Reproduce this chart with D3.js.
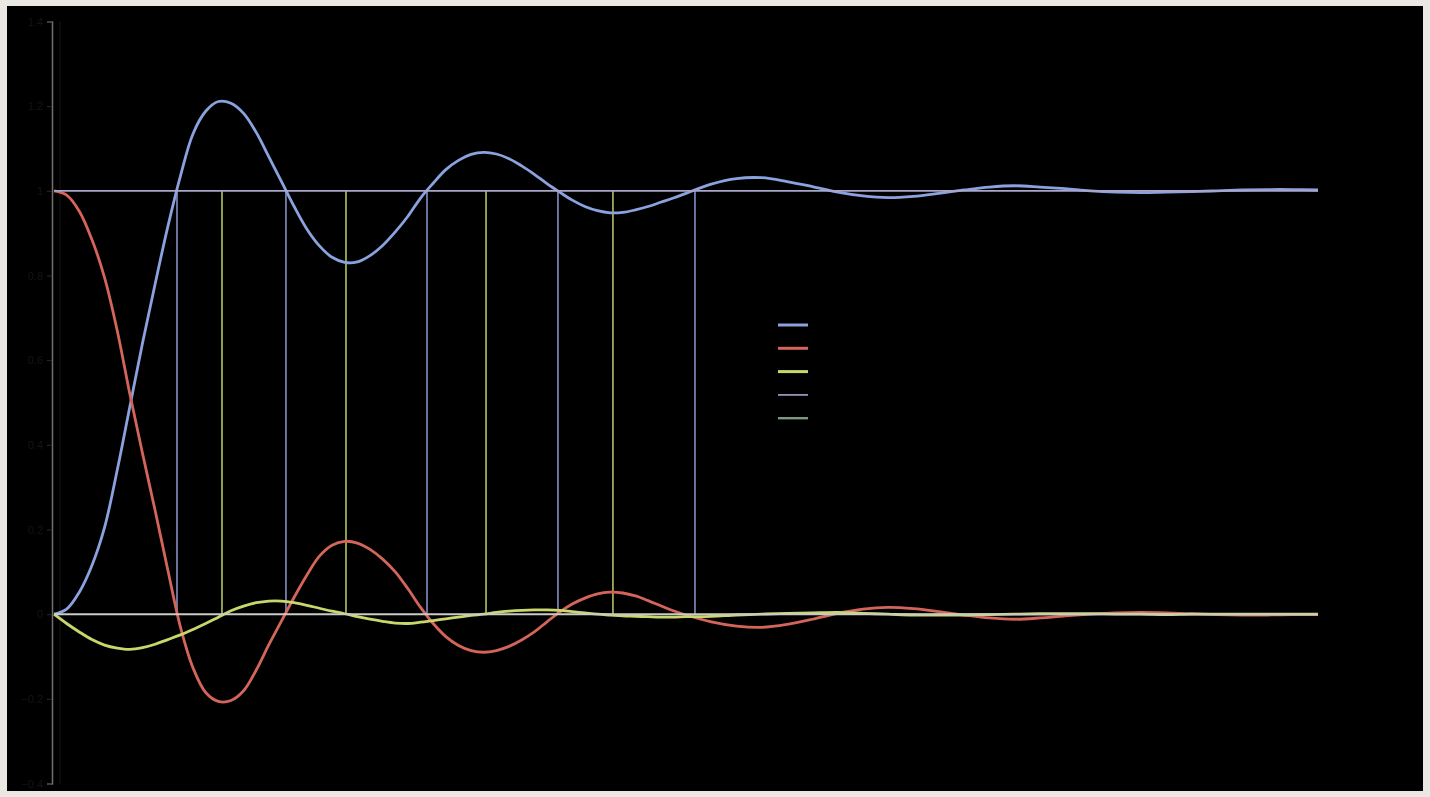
<!DOCTYPE html>
<html>
<head>
<meta charset="utf-8">
<script src="https://cdn.jsdelivr.net/npm/d3@7"></script>
<style>
  html, body { margin: 0; padding: 0; background: #ebe8e3; }
  svg { display: block; }
</style>
</head>
<body>
<div id="chart"></div>
<script>
// sample times (s)
const time = [
  0, 0.1, 0.2, 0.3, 0.4, 0.5, 0.6, 0.7, 0.8, 0.9,
  1.0, 1.1, 1.2, 1.3, 1.4, 1.5, 1.6, 1.7, 1.8, 1.9,
  2.0, 2.1, 2.2, 2.3, 2.4, 2.5, 2.6, 2.7, 2.8, 2.9,
  3.0, 3.1, 3.2, 3.3, 3.4, 3.5, 3.6, 3.7, 3.8, 3.9,
  4.0, 4.1, 4.2, 4.3, 4.4, 4.5, 4.6, 4.7, 4.8, 4.9,
  5.0, 5.2, 5.4, 5.6, 5.8, 6.0, 6.2, 6.4, 6.6, 6.8,
  7.0, 7.2, 7.4, 7.6, 7.8, 8.0, 8.2, 8.4, 8.6, 8.8,
  9.0, 9.2, 9.4, 9.6, 9.8, 10.0
];

const output = [
  0, 0.012, 0.052, 0.115, 0.205, 0.34, 0.49, 0.64, 0.78, 0.915,
  1.035, 1.135, 1.188, 1.211, 1.207, 1.183, 1.138, 1.08, 1.022, 0.963,
  0.91, 0.87, 0.843, 0.831, 0.832, 0.847, 0.871, 0.903, 0.94, 0.983,
  1.018, 1.05, 1.072, 1.086, 1.091, 1.087, 1.076, 1.059, 1.039, 1.017,
  0.997, 0.978, 0.963, 0.953, 0.948, 0.949, 0.955, 0.963, 0.973, 0.983,
  0.994, 1.016, 1.029, 1.031, 1.022, 1.01, 0.997, 0.988, 0.984, 0.987,
  0.994, 1.002, 1.009, 1.012, 1.009, 1.005, 1.0, 0.997, 0.996, 0.997,
  0.998, 1.0, 1.002, 1.003, 1.003, 1.002
];

const error = [
  1.0, 0.99, 0.952, 0.885, 0.795, 0.67, 0.52, 0.38, 0.245, 0.105,
  -0.03, -0.127, -0.185, -0.206, -0.204, -0.181, -0.132, -0.072, -0.016, 0.04,
  0.092, 0.137, 0.163, 0.172, 0.168, 0.153, 0.13, 0.1, 0.06, 0.016,
  -0.022, -0.053, -0.074, -0.086, -0.09, -0.086, -0.076, -0.061, -0.042, -0.018,
  0.005, 0.024, 0.038, 0.048, 0.052, 0.05, 0.043, 0.032, 0.02, 0.008,
  -0.002, -0.018, -0.028, -0.031, -0.024, -0.012, 0.002, 0.012, 0.016, 0.013,
  0.006, -0.002, -0.009, -0.012, -0.009, -0.004, 0.0, 0.003, 0.004, 0.003,
  0.001, -0.001, -0.002, -0.002, -0.001, -0.001
];

const errorRate = [
  0, -0.022, -0.042, -0.06, -0.073, -0.08, -0.083, -0.079, -0.071, -0.06,
  -0.049, -0.036, -0.022, -0.007, 0.008, 0.019, 0.027, 0.031, 0.031, 0.027,
  0.021, 0.014, 0.007, 0.001, -0.006, -0.012, -0.017, -0.021, -0.022, -0.019,
  -0.015, -0.011, -0.007, -0.003, 0.0, 0.004, 0.007, 0.009, 0.01, 0.01,
  0.009, 0.006, 0.003, 0.0, -0.002, -0.004, -0.005, -0.006, -0.007, -0.007,
  -0.006, -0.005, -0.002, 0.0, 0.002, 0.003, 0.004, 0.002, 0.0, -0.002,
  -0.002, -0.002, -0.001, 0.0, 0.001, 0.001, 0.001, 0.0, 0.0, -0.001,
  0, 0, 0, 0, 0, 0
];

// times where output crosses the setpoint, and where it peaks
const crossTimes = [0.973, 1.835, 2.951, 3.987, 5.071];
const peakTimes = [1.329, 2.310, 3.418, 4.422];

const levelValues = [1, 0];
const yTicks = [-0.4, -0.2, 0, 0.2, 0.4, 0.6, 0.8, 1, 1.2, 1.4];
const seriesNames = ['Output', 'Error', 'Error rate', 'Setpoint', 'Zero'];

const W = 1430, H = 797;
const colors = {
  output: '#8aa2de',
  error: '#d4655a',
  rate: '#c9d66c',
  setpoint: '#aaa6cc',
  zero: '#c8ccc6',
  crossV: '#8590c6',
  peakV: '#b3c266'
};

const svg = d3.select('#chart').append('svg')
  .attr('width', W)
  .attr('height', H);

svg.append('rect')
  .attr('x', 7).attr('y', 6)
  .attr('width', 1416).attr('height', 785)
  .attr('fill', '#000');

const x = d3.scaleLinear().domain([0, 10]).range([54, 1318]);
const y = d3.scaleLinear().domain([-0.4, 1.4]).range([783.5, 21.5]);

// faint inner edge of plot area
svg.append('line')
  .attr('x1', 60).attr('x2', 60)
  .attr('y1', y(1.4)).attr('y2', y(-0.4))
  .attr('stroke', '#161616').attr('stroke-width', 1);

const yAxis = svg.append('g')
  .attr('transform', 'translate(52,0)')
  .call(d3.axisLeft(y).tickValues(yTicks).tickSize(5).tickPadding(4).tickFormat(d3.format('')));
yAxis.select('.domain').attr('stroke', '#707070').attr('stroke-width', 1.5);
yAxis.selectAll('.tick line').attr('stroke', '#2a2a2a');
yAxis.selectAll('.tick text')
  .attr('fill', '#141414')
  .style('font-family', 'Liberation Sans, Arial, sans-serif')
  .style('font-size', '11px');

// vertical markers
svg.append('g').selectAll('line')
  .data(crossTimes)
  .join('line')
    .attr('x1', d => x(d)).attr('x2', d => x(d))
    .attr('y1', y(1)).attr('y2', y(0))
    .attr('stroke', colors.crossV)
    .attr('stroke-width', 1.6);

svg.append('g').selectAll('line')
  .data(peakTimes)
  .join('line')
    .attr('x1', d => x(d)).attr('x2', d => x(d))
    .attr('y1', y(1)).attr('y2', y(0))
    .attr('stroke', colors.peakV)
    .attr('stroke-width', 1.6);

const line = d3.line()
  .x((d, i) => x(time[i]))
  .y(d => y(d))
  .curve(d3.curveCatmullRom.alpha(0.5));

const series = [
  { vals: output, color: colors.output },
  { vals: error, color: colors.error },
  { vals: errorRate, color: colors.rate }
];

svg.append('g').selectAll('path')
  .data(series)
  .join('path')
    .attr('d', d => line(d.vals))
    .attr('fill', 'none')
    .attr('stroke', d => d.color)
    .attr('stroke-width', 2.8)
    .attr('stroke-linejoin', 'round');

// setpoint and zero levels
svg.append('g').selectAll('line')
  .data(levelValues)
  .join('line')
    .attr('x1', x(0)).attr('x2', x(10))
    .attr('y1', d => y(d)).attr('y2', d => y(d))
    .attr('stroke', (d, i) => i === 0 ? colors.setpoint : colors.zero)
    .attr('stroke-width', (d, i) => i === 0 ? 1.6 : 2);

// legend (labels are black on black, as in the original)
const legendColors = [colors.output, colors.error, colors.rate, colors.setpoint, '#7d9680'];
const legendWidths = [3, 3, 3, 1.6, 2.4];
const legend = svg.append('g').attr('transform', 'translate(778,325)');
const item = legend.selectAll('g')
  .data(seriesNames)
  .join('g')
    .attr('transform', (d, i) => `translate(0,${i * 23.3})`);
item.append('line')
  .attr('x1', 0).attr('x2', 30)
  .attr('stroke', (d, i) => legendColors[i])
  .attr('stroke-width', (d, i) => legendWidths[i]);
item.append('text')
  .attr('x', 36).attr('dy', '0.35em')
  .attr('fill', '#000')
  .style('font-family', 'Liberation Sans, Arial, sans-serif')
  .style('font-size', '13px')
  .text(d => d);
</script>
</body>
</html>
